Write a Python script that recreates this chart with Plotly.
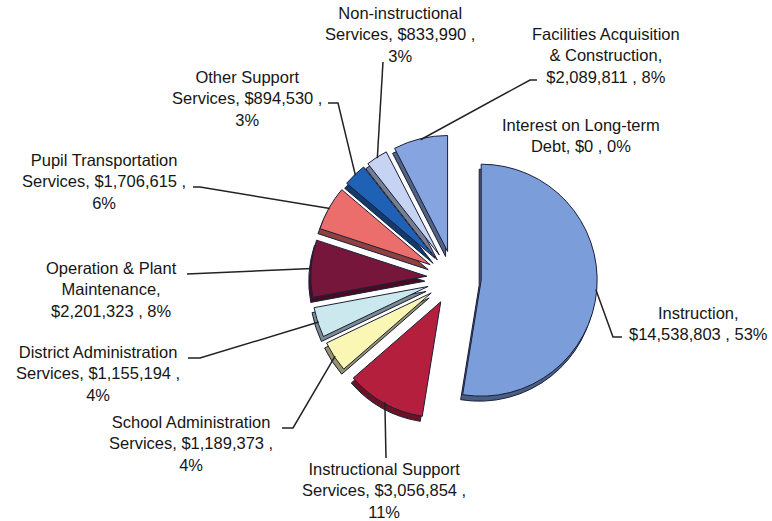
import math
import plotly.graph_objects as go

# ---- data -------------------------------------------------------------
categories = [
    "Instruction",
    "Instructional Support Services",
    "School Administration Services",
    "District Administration Services",
    "Operation & Plant Maintenance",
    "Pupil Transportation Services",
    "Other Support Services",
    "Non-instructional Services",
    "Facilities Acquisition & Construction",
    "Interest on Long-term Debt",
]
amounts = [14538803, 3056854, 1189373, 1155194, 2201323,
           1706615, 894530, 833990, 2089811, 0]

slice_colors = ["#7B9EDB", "#B41F3E", "#FAF6B4", "#CBE8EE", "#76163A",
                "#EB6E6C", "#1F62B5", "#C6D3F2", "#86A4E0", "#9FA8D8"]

# label text layout ({amt} and {pct} are filled from the amounts)
label_templates = [
    "Instruction,<br>{amt} , {pct}",
    "Instructional Support<br>Services, {amt} ,<br>{pct}",
    "School Administration<br>Services, {amt} ,<br>{pct}",
    "District Administration<br>Services, {amt} ,<br>{pct}",
    "Operation & Plant<br>Maintenance,<br>{amt} , {pct}",
    "Pupil Transportation<br>Services, {amt} ,<br>{pct}",
    "Other Support<br>Services, {amt} ,<br>{pct}",
    "Non-instructional<br>Services, {amt} ,<br>{pct}",
    "Facilities Acquisition<br>& Construction,<br>{amt} , {pct}",
    "Interest on Long-term<br>Debt, {amt} , {pct}",
]

# ---- layout constants (pixels) -----------------------------------------
W, H = 772, 521
CX, CY = 454, 278          # pie centre
R = 116                    # slice radius
PULL = 0.235               # explode distance as a fraction of R
DEPTH = 5                  # thickness of the 3-D side
SHIFT_X = 2                # the side shows slightly to the left

label_pos = [(698, 323), (384, 490), (191, 443), (98, 373), (112, 289),
             (104, 182), (247, 98), (400, 35), (606, 55), (581, 135)]

# leader line points from the label towards the pie (pie end is computed)
leader_from_label = [
    [(622, 337), (613, 337)],
    [(386, 458)],
    [(282, 428), (293, 428)],
    [(188, 358), (200, 358)],
    [(187, 274)],
    [(193, 187), (200, 187)],
    [(328, 103), (338, 103)],
    [(383, 62)],
    [(537, 80), (530, 80)],
    None,
]


def px(x):
    return x / W


def py(y):
    return 1 - y / H


def darker(hex_color, f=0.6):
    h = hex_color.lstrip("#")
    r, g, b = (int(h[i:i + 2], 16) for i in (0, 2, 4))
    return "#%02x%02x%02x" % (int(r * f), int(g * f), int(b * f))


total = sum(amounts)
drawn = [i for i, v in enumerate(amounts) if v > 0]

half = R * (1 + PULL)
dom_x = [px(CX - half), px(CX + half)]
dom_y = [py(CY + half), py(CY - half)]

fig = go.Figure()

# side of the 3-D pie: same slices, darker, shifted down
fig.add_trace(go.Pie(
    labels=[categories[i] for i in drawn],
    values=[amounts[i] for i in drawn],
    sort=False, direction="clockwise", rotation=0,
    pull=[PULL] * len(drawn),
    marker=dict(colors=[darker(slice_colors[i]) for i in drawn],
                line=dict(color="#1c1f3a", width=1)),
    textinfo="none", hoverinfo="skip", showlegend=False,
    domain=dict(x=[dom_x[0] - px(SHIFT_X), dom_x[1] - px(SHIFT_X)],
                y=[dom_y[0] - DEPTH / H, dom_y[1] - DEPTH / H]),
))

# top faces
fig.add_trace(go.Pie(
    labels=[categories[i] for i in drawn],
    values=[amounts[i] for i in drawn],
    sort=False, direction="clockwise", rotation=0,
    pull=[PULL] * len(drawn),
    marker=dict(colors=[slice_colors[i] for i in drawn],
                line=dict(color="#1c1f3a", width=1)),
    textinfo="none", hoverinfo="skip", showlegend=False,
    domain=dict(x=dom_x, y=dom_y),
))

font = dict(family="Liberation Sans, Arial, sans-serif", size=16.5, color="#161616")

cum = 0.0
for i, v in enumerate(amounts):
    frac = v / total
    mid = (cum + frac / 2) * 2 * math.pi
    cum += frac

    text = label_templates[i].format(amt="${:,.0f}".format(v),
                                     pct="{:.0f}%".format(round(frac * 100)))
    lx, ly = label_pos[i]
    fig.add_annotation(x=px(lx), y=py(ly), xref="paper", yref="paper",
                       text=text, showarrow=False, align="center",
                       xanchor="center", yanchor="middle", font=font)

    pts = leader_from_label[i]
    if pts is None:
        continue
    # point on the outer arc of the exploded slice, at its mid angle
    reach = R * (1 + PULL) - 1
    ex = CX + reach * math.sin(mid)
    ey = CY - reach * math.cos(mid)
    path_pts = pts + [(ex, ey)]
    path = "M " + " L ".join("%.5f,%.5f" % (px(x), py(y)) for x, y in path_pts)
    fig.add_shape(type="path", path=path, xref="paper", yref="paper",
                  line=dict(color="#222222", width=1.5))

fig.update_layout(
    width=W, height=H,
    margin=dict(l=0, r=0, t=0, b=0),
    paper_bgcolor="white", plot_bgcolor="white",
)

fig.write_html("out.html")
